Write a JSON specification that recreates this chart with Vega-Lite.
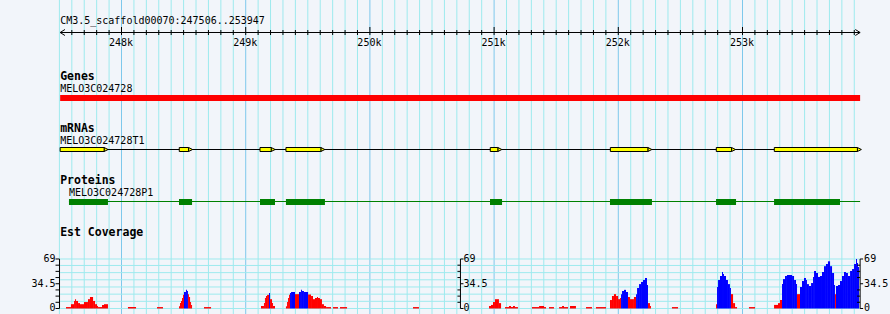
{
"$schema":"https://vega.github.io/schema/vega-lite/v6.json",
"width":890,"height":314,"padding":0,"autosize":{"type":"none"},
"background":"#F2F5FA",
"config":{"view":{"stroke":null},"text":{"font":"DejaVu Sans Mono","fontSize":10,"color":"#000000"}},
"datasets":{
"grid":[{"start":247500},{"start":247600},{"start":247700},{"start":247800},{"start":247900},{"start":248000},{"start":248100},{"start":248200},{"start":248300},{"start":248400},{"start":248500},{"start":248600},{"start":248700},{"start":248800},{"start":248900},{"start":249000},{"start":249100},{"start":249200},{"start":249300},{"start":249400},{"start":249500},{"start":249600},{"start":249700},{"start":249800},{"start":249900},{"start":250000},{"start":250100},{"start":250200},{"start":250300},{"start":250400},{"start":250500},{"start":250600},{"start":250700},{"start":250800},{"start":250900},{"start":251000},{"start":251100},{"start":251200},{"start":251300},{"start":251400},{"start":251500},{"start":251600},{"start":251700},{"start":251800},{"start":251900},{"start":252000},{"start":252100},{"start":252200},{"start":252300},{"start":252400},{"start":252500},{"start":252600},{"start":252700},{"start":252800},{"start":252900},{"start":253000},{"start":253100},{"start":253200},{"start":253300},{"start":253400},{"start":253500},{"start":253600},{"start":253700},{"start":253800},{"start":253900}],
"rulerLabels":[{"start":248000,"label":"248k"},{"start":249000,"label":"249k"},{"start":250000,"label":"250k"},{"start":251000,"label":"251k"},{"start":252000,"label":"252k"},{"start":253000,"label":"253k"}],
"ruler":[{"start":247506,"end":253947,"label":"CM3.5_scaffold00070:247506..253947"}],
"arrows":[{"start":247506,"dir":"left"},{"start":253947,"dir":"right"}],
"tracks":[{"track":"Genes"},{"track":"mRNAs"},{"track":"Proteins"},{"track":"Est Coverage"}],
"features":[
{"track":"Genes","name":"MELO3C024728","start":247506,"end":253947},
{"track":"mRNAs","name":"MELO3C024728T1","start":247506,"end":253947},
{"track":"Proteins","name":"MELO3C024728P1","start":247577,"end":253947}],
"parts":[
{"track":"mRNAs","start":247506,"end":247860},
{"track":"mRNAs","start":248465,"end":248540},
{"track":"mRNAs","start":249115,"end":249205},
{"track":"mRNAs","start":249324,"end":249605},
{"track":"mRNAs","start":250969,"end":251030},
{"track":"mRNAs","start":251936,"end":252238},
{"track":"mRNAs","start":252789,"end":252912},
{"track":"mRNAs","start":253256,"end":253925},
{"track":"Proteins","start":247577,"end":247891},
{"track":"Proteins","start":248463,"end":248568},
{"track":"Proteins","start":249115,"end":249236},
{"track":"Proteins","start":249324,"end":249638},
{"track":"Proteins","start":250967,"end":251064},
{"track":"Proteins","start":251933,"end":252271},
{"track":"Proteins","start":252787,"end":252948},
{"track":"Proteins","start":253254,"end":253785}],
"covGrid":[{"v":0},{"v":10},{"v":20},{"v":30},{"v":40},{"v":50},{"v":60},{"v":69}],
"covTicks":[{"v":0,"major":1},{"v":8.625,"major":0},{"v":17.25,"major":0},{"v":25.875,"major":0},{"v":34.5,"major":1},{"v":43.125,"major":0},{"v":51.75,"major":0},{"v":60.375,"major":0},{"v":69,"major":1}],
"covLabels":[{"v":69,"label":"69"},{"v":34.5,"label":"34.5"},{"v":0,"label":"0"}],
"covAxes":[{"start":247501,"side":"left"},{"start":250729,"side":"mid"},{"start":253947,"side":"right"}],
"cov":[
{"start":247553,"end":247593,"v":2,"strand":"+"},{"start":247593,"end":247618,"v":6,"strand":"+"},{"start":247618,"end":247626,"v":10.5,"strand":"+"},{"start":247626,"end":247634,"v":13,"strand":"+"},{"start":247634,"end":247650,"v":10.5,"strand":"+"},{"start":247650,"end":247666,"v":7.5,"strand":"+"},{"start":247666,"end":247698,"v":6,"strand":"+"},{"start":247698,"end":247730,"v":9,"strand":"+"},{"start":247730,"end":247746,"v":13,"strand":"+"},{"start":247746,"end":247771,"v":16,"strand":"+"},{"start":247771,"end":247787,"v":10.5,"strand":"+"},{"start":247787,"end":247803,"v":6,"strand":"+"},{"start":247803,"end":247811,"v":3.5,"strand":"+"},{"start":247811,"end":247843,"v":2,"strand":"+"},{"start":247843,"end":247859,"v":5,"strand":"+"},{"start":247859,"end":247891,"v":6,"strand":"+"},
{"start":248052,"end":248117,"v":2,"strand":"+"},
{"start":248286,"end":248334,"v":2,"strand":"+"},
{"start":248463,"end":248471,"v":3,"strand":"+"},{"start":248471,"end":248479,"v":7.5,"strand":"+"},{"start":248479,"end":248487,"v":10.5,"strand":"+"},{"start":248487,"end":248495,"v":14.6,"strand":"+"},{"start":248495,"end":248503,"v":19,"strand":"+"},{"start":248503,"end":248519,"v":23,"strand":"-"},{"start":248519,"end":248527,"v":26,"strand":"-"},{"start":248527,"end":248535,"v":24.4,"strand":"-"},{"start":248535,"end":248543,"v":20,"strand":"+"},{"start":248543,"end":248552,"v":16,"strand":"+"},{"start":248552,"end":248560,"v":9,"strand":"+"},{"start":248560,"end":248568,"v":5,"strand":"+"},
{"start":248664,"end":248721,"v":2,"strand":"+"},
{"start":249123,"end":249147,"v":3.5,"strand":"+"},{"start":249147,"end":249155,"v":7.5,"strand":"+"},{"start":249155,"end":249163,"v":14.6,"strand":"+"},{"start":249163,"end":249172,"v":17.4,"strand":"+"},{"start":249172,"end":249188,"v":19,"strand":"+"},{"start":249188,"end":249196,"v":21.6,"strand":"-"},{"start":249196,"end":249212,"v":13,"strand":"+"},{"start":249212,"end":249220,"v":7.5,"strand":"+"},{"start":249220,"end":249236,"v":3.5,"strand":"+"},
{"start":249324,"end":249333,"v":3,"strand":"+"},{"start":249333,"end":249341,"v":9,"strand":"+"},{"start":249341,"end":249349,"v":14.6,"strand":"+"},{"start":249349,"end":249357,"v":19,"strand":"+"},{"start":249357,"end":249365,"v":21.6,"strand":"-"},{"start":249365,"end":249397,"v":23,"strand":"-"},{"start":249397,"end":249429,"v":20,"strand":"+"},{"start":249429,"end":249445,"v":23,"strand":"-"},{"start":249445,"end":249453,"v":26,"strand":"-"},{"start":249453,"end":249469,"v":24.4,"strand":"-"},{"start":249469,"end":249502,"v":23,"strand":"-"},{"start":249502,"end":249526,"v":19.5,"strand":"+"},{"start":249526,"end":249542,"v":17.4,"strand":"+"},{"start":249542,"end":249558,"v":13,"strand":"+"},{"start":249558,"end":249574,"v":14.6,"strand":"+"},{"start":249574,"end":249582,"v":16,"strand":"+"},{"start":249582,"end":249598,"v":14.6,"strand":"+"},{"start":249598,"end":249614,"v":13,"strand":"+"},{"start":249614,"end":249630,"v":6,"strand":"+"},{"start":249630,"end":249647,"v":3.5,"strand":"+"},{"start":249647,"end":249687,"v":2,"strand":"+"},{"start":249703,"end":249743,"v":2,"strand":"+"},{"start":249759,"end":249816,"v":2,"strand":"+"},
{"start":250347,"end":250395,"v":2,"strand":"+"},
{"start":250959,"end":250975,"v":3.5,"strand":"+"},{"start":250975,"end":250991,"v":5,"strand":"+"},{"start":250991,"end":251007,"v":9,"strand":"+"},{"start":251007,"end":251039,"v":13,"strand":"+"},{"start":251039,"end":251056,"v":7.5,"strand":"+"},
{"start":251088,"end":251120,"v":2,"strand":"+"},{"start":251120,"end":251136,"v":3.5,"strand":"+"},{"start":251136,"end":251152,"v":2,"strand":"+"},{"start":251152,"end":251168,"v":3.5,"strand":"+"},{"start":251168,"end":251192,"v":2,"strand":"+"},
{"start":251305,"end":251362,"v":2,"strand":"+"},{"start":251362,"end":251402,"v":3.5,"strand":"+"},{"start":251402,"end":251418,"v":2,"strand":"+"},
{"start":251442,"end":251482,"v":2,"strand":"+"},
{"start":251523,"end":251547,"v":2,"strand":"+"},{"start":251547,"end":251563,"v":3.5,"strand":"+"},{"start":251563,"end":251595,"v":2,"strand":"+"},
{"start":251611,"end":251659,"v":3.5,"strand":"+"},
{"start":251740,"end":251788,"v":2,"strand":"+"},
{"start":251820,"end":251901,"v":2,"strand":"+"},
{"start":251933,"end":251949,"v":11.8,"strand":"+"},{"start":251949,"end":251965,"v":17.4,"strand":"+"},{"start":251965,"end":251982,"v":20,"strand":"+"},{"start":251982,"end":251998,"v":17.4,"strand":"+"},{"start":251998,"end":252014,"v":13,"strand":"+"},{"start":252014,"end":252022,"v":14.6,"strand":"+"},{"start":252022,"end":252030,"v":20,"strand":"-"},{"start":252030,"end":252046,"v":24.4,"strand":"-"},{"start":252046,"end":252062,"v":26,"strand":"-"},{"start":252062,"end":252078,"v":23,"strand":"-"},{"start":252078,"end":252094,"v":16,"strand":"+"},{"start":252094,"end":252126,"v":13,"strand":"+"},{"start":252126,"end":252143,"v":16,"strand":"+"},{"start":252143,"end":252151,"v":20,"strand":"-"},{"start":252151,"end":252167,"v":28.6,"strand":"-"},{"start":252167,"end":252183,"v":34,"strand":"-"},{"start":252183,"end":252199,"v":37,"strand":"-"},{"start":252199,"end":252215,"v":39.7,"strand":"-"},{"start":252215,"end":252231,"v":42.5,"strand":"-"},{"start":252231,"end":252239,"v":32.8,"strand":"-"},{"start":252239,"end":252255,"v":7.5,"strand":"+"},{"start":252255,"end":252263,"v":3.5,"strand":"+"},
{"start":252432,"end":252481,"v":2,"strand":"+"},
{"start":252787,"end":252795,"v":6,"strand":"+"},{"start":252795,"end":252803,"v":30,"strand":"-"},{"start":252803,"end":252819,"v":39.7,"strand":"-"},{"start":252819,"end":252835,"v":45.3,"strand":"-"},{"start":252835,"end":252843,"v":50.9,"strand":"-"},{"start":252843,"end":252851,"v":48,"strand":"-"},{"start":252851,"end":252867,"v":45.3,"strand":"-"},{"start":252867,"end":252883,"v":39.7,"strand":"-"},{"start":252883,"end":252899,"v":34,"strand":"-"},{"start":252899,"end":252907,"v":28.6,"strand":"-"},{"start":252907,"end":252924,"v":20,"strand":"+"},{"start":252924,"end":252940,"v":7.5,"strand":"+"},{"start":252940,"end":252956,"v":2,"strand":"+"},
{"start":253052,"end":253101,"v":2,"strand":"+"},
{"start":253254,"end":253286,"v":5,"strand":"+"},{"start":253286,"end":253302,"v":7.5,"strand":"+"},{"start":253302,"end":253318,"v":12,"strand":"+"},{"start":253318,"end":253326,"v":34,"strand":"-"},{"start":253326,"end":253342,"v":41,"strand":"-"},{"start":253342,"end":253358,"v":45.3,"strand":"-"},{"start":253358,"end":253399,"v":46.7,"strand":"-"},{"start":253399,"end":253415,"v":45.3,"strand":"-"},{"start":253415,"end":253431,"v":39.7,"strand":"-"},{"start":253431,"end":253439,"v":34,"strand":"-"},{"start":253439,"end":253463,"v":20,"strand":"+"},{"start":253463,"end":253479,"v":30,"strand":"-"},{"start":253479,"end":253495,"v":38.3,"strand":"-"},{"start":253495,"end":253511,"v":42.5,"strand":"-"},{"start":253511,"end":253519,"v":39.7,"strand":"-"},{"start":253519,"end":253535,"v":34,"strand":"-"},{"start":253535,"end":253552,"v":31.4,"strand":"-"},{"start":253552,"end":253568,"v":35.5,"strand":"-"},{"start":253568,"end":253576,"v":44,"strand":"-"},{"start":253576,"end":253592,"v":52.3,"strand":"-"},{"start":253592,"end":253608,"v":49.5,"strand":"-"},{"start":253608,"end":253624,"v":44,"strand":"-"},{"start":253624,"end":253640,"v":45.3,"strand":"-"},{"start":253640,"end":253656,"v":50.9,"strand":"-"},{"start":253656,"end":253672,"v":59,"strand":"-"},{"start":253672,"end":253688,"v":62,"strand":"-"},{"start":253688,"end":253705,"v":65.8,"strand":"-"},{"start":253705,"end":253721,"v":59,"strand":"-"},{"start":253721,"end":253737,"v":49.5,"strand":"-"},{"start":253737,"end":253745,"v":32.8,"strand":"-"},{"start":253745,"end":253753,"v":20,"strand":"+"},{"start":253753,"end":253769,"v":31.4,"strand":"-"},{"start":253769,"end":253785,"v":32.8,"strand":"-"},{"start":253785,"end":253801,"v":38.3,"strand":"-"},{"start":253801,"end":253817,"v":45.3,"strand":"-"},{"start":253817,"end":253833,"v":50.9,"strand":"-"},{"start":253833,"end":253849,"v":49.5,"strand":"-"},{"start":253849,"end":253866,"v":45.3,"strand":"-"},{"start":253866,"end":253882,"v":52.3,"strand":"-"},{"start":253882,"end":253898,"v":55,"strand":"-"},{"start":253898,"end":253914,"v":62,"strand":"-"},{"start":253914,"end":253922,"v":69,"strand":"-"},{"start":253922,"end":253930,"v":63.4,"strand":"-"},{"start":253930,"end":253938,"v":57.8,"strand":"-"}
]
},
"resolve":{"scale":{"y":"independent"}},
"layer":[
{"layer":[
{"data":{"name":"grid"},"mark":{"type":"rule","strokeWidth":1},
 "encoding":{"x":{"field":"start","type":"quantitative","scale":{"domain":[247021.7,254187.6],"nice":false,"zero":false},"axis":null},
  "color":{"condition":{"test":"datum.start % 1000 === 0","value":"#7EC8EC"},"value":"#9EEAEE"}}},
{"data":{"name":"ruler"},"mark":{"type":"text","align":"left","baseline":"alphabetic","yOffset":0.8},
 "encoding":{"x":{"field":"start","type":"quantitative","scale":{"domain":[247021.7,254187.6],"nice":false,"zero":false},"axis":null},
  "y":{"datum":"Ruler","type":"nominal","scale":{"type":"point","domain":["Ruler","Genes","mRNAs","Proteins","Est Coverage"],"range":[23.5,231.5],"padding":0},"axis":null},"text":{"field":"label"}}},
{"data":{"name":"ruler"},"mark":{"type":"rule","color":"#000000","strokeWidth":1,"yOffset":9},
 "encoding":{"x":{"field":"start","type":"quantitative","scale":{"domain":[247021.7,254187.6],"nice":false,"zero":false},"axis":null},"x2":{"field":"end"},
  "y":{"datum":"Ruler","type":"nominal","scale":{"type":"point","domain":["Ruler","Genes","mRNAs","Proteins","Est Coverage"],"range":[23.5,231.5],"padding":0},"axis":null}}},
{"data":{"name":"arrows"},"mark":{"type":"point","filled":false,"stroke":"#000000","strokeWidth":1,"size":36,"opacity":1,"yOffset":9},
 "encoding":{"x":{"field":"start","type":"quantitative","scale":{"domain":[247021.7,254187.6],"nice":false,"zero":false},"axis":null},
  "y":{"datum":"Ruler","type":"nominal","scale":{"type":"point","domain":["Ruler","Genes","mRNAs","Proteins","Est Coverage"],"range":[23.5,231.5],"padding":0},"axis":null},
  "shape":{"field":"dir","type":"nominal","scale":{"domain":["left","right"],"range":["M1.6,-1L0,0L1.6,1","M-1.6,-1L0,0L-1.6,1"]},"legend":null}}},
{"data":{"name":"grid"},"transform":[{"filter":"datum.start > 247506 && datum.start % 1000 !== 0"}],
 "mark":{"type":"rule","color":"#000000","strokeWidth":1,"yOffset":6.5,"y2Offset":11.5},
 "encoding":{"x":{"field":"start","type":"quantitative","scale":{"domain":[247021.7,254187.6],"nice":false,"zero":false},"axis":null},
  "y":{"datum":"Ruler","type":"nominal","scale":{"type":"point","domain":["Ruler","Genes","mRNAs","Proteins","Est Coverage"],"range":[23.5,231.5],"padding":0},"axis":null},"y2":{"datum":"Ruler"}}},
{"data":{"name":"grid"},"transform":[{"filter":"datum.start % 1000 === 0"}],
 "mark":{"type":"rule","color":"#000000","strokeWidth":1,"yOffset":3.5,"y2Offset":11.5},
 "encoding":{"x":{"field":"start","type":"quantitative","scale":{"domain":[247021.7,254187.6],"nice":false,"zero":false},"axis":null},
  "y":{"datum":"Ruler","type":"nominal","scale":{"type":"point","domain":["Ruler","Genes","mRNAs","Proteins","Est Coverage"],"range":[23.5,231.5],"padding":0},"axis":null},"y2":{"datum":"Ruler"}}},
{"data":{"name":"rulerLabels"},"mark":{"type":"text","align":"center","baseline":"alphabetic","yOffset":22.5,"dx":-0.5},
 "encoding":{"x":{"field":"start","type":"quantitative","scale":{"domain":[247021.7,254187.6],"nice":false,"zero":false},"axis":null},
  "y":{"datum":"Ruler","type":"nominal","scale":{"type":"point","domain":["Ruler","Genes","mRNAs","Proteins","Est Coverage"],"range":[23.5,231.5],"padding":0},"axis":null},"text":{"field":"label"}}},
{"data":{"name":"tracks"},"mark":{"type":"text","align":"left","baseline":"alphabetic","yOffset":4.5,"fontWeight":"bold","fontSize":11.5},
 "encoding":{"x":{"datum":247506,"type":"quantitative","scale":{"domain":[247021.7,254187.6],"nice":false,"zero":false},"axis":null},
  "y":{"field":"track","type":"nominal","scale":{"type":"point","domain":["Ruler","Genes","mRNAs","Proteins","Est Coverage"],"range":[23.5,231.5],"padding":0},"axis":null},"text":{"field":"track"}}},
{"data":{"name":"features"},"mark":{"type":"text","align":"left","baseline":"alphabetic","yOffset":16.8},
 "encoding":{"x":{"field":"start","type":"quantitative","scale":{"domain":[247021.7,254187.6],"nice":false,"zero":false},"axis":null},
  "y":{"field":"track","type":"nominal","scale":{"type":"point","domain":["Ruler","Genes","mRNAs","Proteins","Est Coverage"],"range":[23.5,231.5],"padding":0},"axis":null},"text":{"field":"name"}}},
{"data":{"name":"features"},"transform":[{"filter":"datum.track === 'Genes'"}],
 "mark":{"type":"rect","color":"#FF0000","yOffset":19.5,"y2Offset":25.5},
 "encoding":{"x":{"field":"start","type":"quantitative","scale":{"domain":[247021.7,254187.6],"nice":false,"zero":false},"axis":null},"x2":{"field":"end"},
  "y":{"field":"track","type":"nominal","scale":{"type":"point","domain":["Ruler","Genes","mRNAs","Proteins","Est Coverage"],"range":[23.5,231.5],"padding":0},"axis":null},"y2":{"field":"track"}}},
{"data":{"name":"features"},"transform":[{"filter":"datum.track === 'mRNAs'"}],
 "mark":{"type":"rule","color":"#000000","strokeWidth":1,"yOffset":22},
 "encoding":{"x":{"field":"start","type":"quantitative","scale":{"domain":[247021.7,254187.6],"nice":false,"zero":false},"axis":null},"x2":{"field":"end"},
  "y":{"field":"track","type":"nominal","scale":{"type":"point","domain":["Ruler","Genes","mRNAs","Proteins","Est Coverage"],"range":[23.5,231.5],"padding":0},"axis":null}}},
{"data":{"name":"features"},"transform":[{"filter":"datum.track === 'Proteins'"}],
 "mark":{"type":"rule","color":"#008000","strokeWidth":1,"yOffset":22},
 "encoding":{"x":{"field":"start","type":"quantitative","scale":{"domain":[247021.7,254187.6],"nice":false,"zero":false},"axis":null},"x2":{"field":"end"},
  "y":{"field":"track","type":"nominal","scale":{"type":"point","domain":["Ruler","Genes","mRNAs","Proteins","Est Coverage"],"range":[23.5,231.5],"padding":0},"axis":null}}},
{"data":{"name":"parts"},"transform":[{"filter":"datum.track === 'mRNAs'"}],
 "mark":{"type":"point","shape":"M-1,-1L1,0L-1,1Z","filled":true,"fill":"#FFFF00","stroke":"#000000","strokeWidth":1,"size":16,"opacity":1,"xOffset":2,"yOffset":22},
 "encoding":{"x":{"field":"end","type":"quantitative","scale":{"domain":[247021.7,254187.6],"nice":false,"zero":false},"axis":null},
  "y":{"field":"track","type":"nominal","scale":{"type":"point","domain":["Ruler","Genes","mRNAs","Proteins","Est Coverage"],"range":[23.5,231.5],"padding":0},"axis":null}}},
{"data":{"name":"parts"},"transform":[{"filter":"datum.track === 'mRNAs'"}],
 "mark":{"type":"rect","fill":"#FFFF00","stroke":"#000000","strokeWidth":1,"yOffset":20,"y2Offset":24},
 "encoding":{"x":{"field":"start","type":"quantitative","scale":{"domain":[247021.7,254187.6],"nice":false,"zero":false},"axis":null},"x2":{"field":"end"},
  "y":{"field":"track","type":"nominal","scale":{"type":"point","domain":["Ruler","Genes","mRNAs","Proteins","Est Coverage"],"range":[23.5,231.5],"padding":0},"axis":null},"y2":{"field":"track"}}},
{"data":{"name":"parts"},"transform":[{"filter":"datum.track === 'Proteins'"}],
 "mark":{"type":"rect","color":"#008000","yOffset":19.5,"y2Offset":25.5},
 "encoding":{"x":{"field":"start","type":"quantitative","scale":{"domain":[247021.7,254187.6],"nice":false,"zero":false},"axis":null},"x2":{"field":"end"},
  "y":{"field":"track","type":"nominal","scale":{"type":"point","domain":["Ruler","Genes","mRNAs","Proteins","Est Coverage"],"range":[23.5,231.5],"padding":0},"axis":null},"y2":{"field":"track"}}}
]},
{"layer":[
{"data":{"name":"covGrid"},"mark":{"type":"rule","color":"#9EEAEE","strokeWidth":1},
 "encoding":{"x":{"datum":247506,"type":"quantitative","scale":{"domain":[247021.7,254187.6],"nice":false,"zero":false},"axis":null},"x2":{"datum":253947},
  "y":{"field":"v","type":"quantitative","scale":{"domain":[-7.667,430.03],"nice":false,"zero":false},"axis":null}}},
{"data":{"name":"cov"},"mark":{"type":"rect"},
 "encoding":{"x":{"field":"start","type":"quantitative","scale":{"domain":[247021.7,254187.6],"nice":false,"zero":false},"axis":null},"x2":{"field":"end"},
  "y":{"field":"v","type":"quantitative","scale":{"domain":[-7.667,430.03],"nice":false,"zero":false},"axis":null},"y2":{"datum":0},
  "color":{"field":"strand","type":"nominal","scale":{"domain":["+","-"],"range":["#FF0000","#0000FF"]},"legend":null}}},
{"data":{"name":"covAxes"},"mark":{"type":"rule","color":"#000000","strokeWidth":1},
 "encoding":{"x":{"field":"start","type":"quantitative","scale":{"domain":[247021.7,254187.6],"nice":false,"zero":false},"axis":null},
  "y":{"datum":0,"type":"quantitative","scale":{"domain":[-7.667,430.03],"nice":false,"zero":false},"axis":null},"y2":{"datum":69}}},
{"data":{"name":"covTicks"},"mark":{"type":"rule","color":"#000000","strokeWidth":1,"xOffset":-4,"x2Offset":0},
 "encoding":{"x":{"datum":247501,"type":"quantitative","scale":{"domain":[247021.7,254187.6],"nice":false,"zero":false},"axis":null},"x2":{"datum":247501},
  "y":{"field":"v","type":"quantitative","scale":{"domain":[-7.667,430.03],"nice":false,"zero":false},"axis":null}}},
{"data":{"name":"covTicks"},"transform":[{"filter":"datum.major === 1"}],"mark":{"type":"rule","color":"#000000","strokeWidth":1,"xOffset":0,"x2Offset":3},
 "encoding":{"x":{"datum":250729,"type":"quantitative","scale":{"domain":[247021.7,254187.6],"nice":false,"zero":false},"axis":null},"x2":{"datum":250729},
  "y":{"field":"v","type":"quantitative","scale":{"domain":[-7.667,430.03],"nice":false,"zero":false},"axis":null}}},
{"data":{"name":"covTicks"},"transform":[{"filter":"datum.major === 0"}],"mark":{"type":"rule","color":"#000000","strokeWidth":1,"xOffset":-3,"x2Offset":0},
 "encoding":{"x":{"datum":250729,"type":"quantitative","scale":{"domain":[247021.7,254187.6],"nice":false,"zero":false},"axis":null},"x2":{"datum":250729},
  "y":{"field":"v","type":"quantitative","scale":{"domain":[-7.667,430.03],"nice":false,"zero":false},"axis":null}}},
{"data":{"name":"covTicks"},"transform":[{"filter":"datum.major === 1"}],"mark":{"type":"rule","color":"#000000","strokeWidth":1,"xOffset":0,"x2Offset":3},
 "encoding":{"x":{"datum":253947,"type":"quantitative","scale":{"domain":[247021.7,254187.6],"nice":false,"zero":false},"axis":null},"x2":{"datum":253947},
  "y":{"field":"v","type":"quantitative","scale":{"domain":[-7.667,430.03],"nice":false,"zero":false},"axis":null}}},
{"data":{"name":"covTicks"},"transform":[{"filter":"datum.major === 0"}],"mark":{"type":"rule","color":"#000000","strokeWidth":1,"xOffset":-3,"x2Offset":0},
 "encoding":{"x":{"datum":253947,"type":"quantitative","scale":{"domain":[247021.7,254187.6],"nice":false,"zero":false},"axis":null},"x2":{"datum":253947},
  "y":{"field":"v","type":"quantitative","scale":{"domain":[-7.667,430.03],"nice":false,"zero":false},"axis":null}}},
{"data":{"name":"covLabels"},"mark":{"type":"text","align":"right","baseline":"middle","dx":-4},
 "encoding":{"x":{"datum":247501,"type":"quantitative","scale":{"domain":[247021.7,254187.6],"nice":false,"zero":false},"axis":null},
  "y":{"field":"v","type":"quantitative","scale":{"domain":[-7.667,430.03],"nice":false,"zero":false},"axis":null},"text":{"field":"label"}}},
{"data":{"name":"covLabels"},"mark":{"type":"text","align":"left","baseline":"middle","dx":3},
 "encoding":{"x":{"datum":250729,"type":"quantitative","scale":{"domain":[247021.7,254187.6],"nice":false,"zero":false},"axis":null},
  "y":{"field":"v","type":"quantitative","scale":{"domain":[-7.667,430.03],"nice":false,"zero":false},"axis":null},"text":{"field":"label"}}},
{"data":{"name":"covLabels"},"mark":{"type":"text","align":"left","baseline":"middle","dx":4},
 "encoding":{"x":{"datum":253947,"type":"quantitative","scale":{"domain":[247021.7,254187.6],"nice":false,"zero":false},"axis":null},
  "y":{"field":"v","type":"quantitative","scale":{"domain":[-7.667,430.03],"nice":false,"zero":false},"axis":null},"text":{"field":"label"}}}
]}
]
}
